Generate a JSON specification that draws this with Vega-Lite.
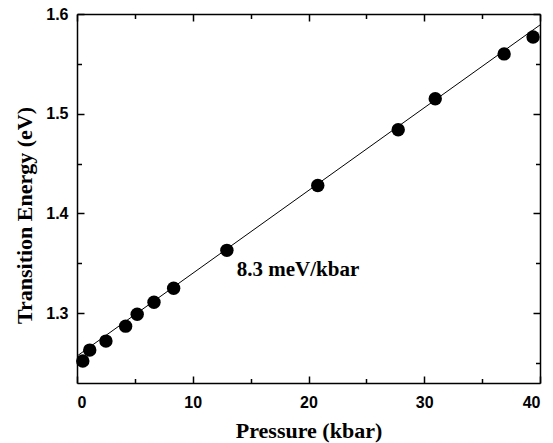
{
  "$schema": "https://vega.github.io/schema/vega-lite/v6.json",
  "width": 463,
  "height": 369,
  "autosize": "none",
  "padding": {"left": 77, "top": 14, "right": 13, "bottom": 60},
  "background": "white",
  "config": {
    "view": {"stroke": null},
    "axis": {
      "grid": false,
      "domainColor": "black",
      "domainWidth": 1.5,
      "tickColor": "black",
      "tickWidth": 1.5,
      "labelColor": "black",
      "titleColor": "black",
      "labelFont": "Liberation Sans",
      "labelFontWeight": "bold",
      "labelFontSize": 16,
      "titleFont": "Liberation Serif",
      "titleFontWeight": "bold",
      "titleFontSize": 22
    }
  },
  "datasets": {
    "pts": [
      {"p": 0.5, "e": 1.252},
      {"p": 1.1, "e": 1.263},
      {"p": 2.5, "e": 1.272},
      {"p": 4.2, "e": 1.287},
      {"p": 5.2, "e": 1.299},
      {"p": 6.65, "e": 1.311},
      {"p": 8.35, "e": 1.325},
      {"p": 12.95, "e": 1.363},
      {"p": 20.8, "e": 1.428},
      {"p": 27.75, "e": 1.484},
      {"p": 30.95, "e": 1.515},
      {"p": 36.9, "e": 1.56},
      {"p": 39.4, "e": 1.577}
    ],
    "fit": [
      {"p": 0, "e": 1.257},
      {"p": 40, "e": 1.589}
    ],
    "lab": [
      {"p": 13.8, "e": 1.343, "text": "8.3 meV/kbar"}
    ]
  },
  "layer": [
    {
      "data": {"name": "fit"},
      "mark": {"type": "line", "color": "black", "strokeWidth": 1, "clip": true},
      "encoding": {
        "x": {
          "field": "p", "type": "quantitative",
          "scale": {"domain": [0, 40], "nice": false, "zero": false},
          "axis": {"orient": "top", "title": null, "labels": false, "values": [0, 10, 20, 30, 40], "tickSize": -7}
        },
        "y": {
          "field": "e", "type": "quantitative",
          "scale": {"domain": [1.23, 1.6], "nice": false, "zero": false},
          "axis": {"orient": "right", "title": null, "labels": false, "values": [1.3, 1.4, 1.5, 1.6], "tickSize": -7}
        }
      }
    },
    {
      "data": {"name": "fit"},
      "mark": {"type": "line", "color": "black", "strokeOpacity": 0},
      "encoding": {
        "x": {
          "field": "p", "type": "quantitative",
          "scale": {"domain": [0, 40], "nice": false, "zero": false},
          "axis": {"orient": "top", "title": null, "labels": false, "domain": false, "values": [5, 15, 25, 35], "tickSize": -4.5}
        },
        "y": {
          "field": "e", "type": "quantitative",
          "scale": {"domain": [1.23, 1.6], "nice": false, "zero": false},
          "axis": {"orient": "right", "title": null, "labels": false, "domain": false, "values": [1.25, 1.35, 1.45, 1.55], "tickSize": -4.5}
        }
      }
    },
    {
      "data": {"name": "fit"},
      "mark": {"type": "line", "color": "black", "strokeOpacity": 0},
      "encoding": {
        "x": {
          "field": "p", "type": "quantitative",
          "scale": {"domain": [0, 40], "nice": false, "zero": false},
          "axis": {"orient": "bottom", "title": null, "labels": false, "domain": false, "values": [5, 15, 25, 35], "tickSize": -4.5}
        },
        "y": {
          "field": "e", "type": "quantitative",
          "scale": {"domain": [1.23, 1.6], "nice": false, "zero": false},
          "axis": {"orient": "left", "title": null, "labels": false, "domain": false, "values": [1.25, 1.35, 1.45, 1.55], "tickSize": -4.5}
        }
      }
    },
    {
      "data": {"name": "fit"},
      "mark": {"type": "line", "color": "black", "strokeOpacity": 0},
      "encoding": {
        "x": {
          "field": "p", "type": "quantitative",
          "scale": {"domain": [0, 40], "nice": false, "zero": false},
          "axis": {"orient": "bottom", "title": null, "labels": false, "domain": false, "values": [0, 10, 20, 30, 40], "tickSize": -7}
        },
        "y": {
          "field": "e", "type": "quantitative",
          "scale": {"domain": [1.23, 1.6], "nice": false, "zero": false},
          "axis": {"orient": "left", "title": null, "labels": false, "domain": false, "values": [1.3, 1.4, 1.5, 1.6], "tickSize": -7}
        }
      }
    },
    {
      "data": {"name": "pts"},
      "mark": {"type": "circle", "color": "black", "opacity": 1, "size": 180},
      "encoding": {
        "x": {
          "field": "p", "type": "quantitative",
          "scale": {"domain": [0, 40], "nice": false, "zero": false},
          "axis": {
            "orient": "bottom", "title": "Pressure (kbar)",
            "values": [0, 10, 20, 30, 40],
            "ticks": false,
            "labelPadding": 11,
            "titleY": 54, "titleBaseline": "alphabetic"
          }
        },
        "y": {
          "field": "e", "type": "quantitative",
          "scale": {"domain": [1.23, 1.6], "nice": false, "zero": false},
          "axis": {
            "orient": "left", "title": "Transition Energy (eV)",
            "values": [1.3, 1.4, 1.5, 1.6],
            "format": ".1f",
            "ticks": false,
            "labelPadding": 9,
            "titleAngle": -90,
            "titleX": -46, "titleY": 201, "titleBaseline": "alphabetic"
          }
        }
      }
    },
    {
      "data": {"name": "lab"},
      "mark": {"type": "text", "align": "left", "baseline": "middle", "font": "Liberation Serif", "fontWeight": "bold", "fontSize": 21, "color": "black"},
      "encoding": {
        "x": {"field": "p", "type": "quantitative", "scale": {"domain": [0, 40], "nice": false, "zero": false}, "axis": null},
        "y": {"field": "e", "type": "quantitative", "scale": {"domain": [1.23, 1.6], "nice": false, "zero": false}, "axis": null},
        "text": {"field": "text"}
      }
    }
  ],
  "resolve": {"axis": {"x": "independent", "y": "independent"}}
}
